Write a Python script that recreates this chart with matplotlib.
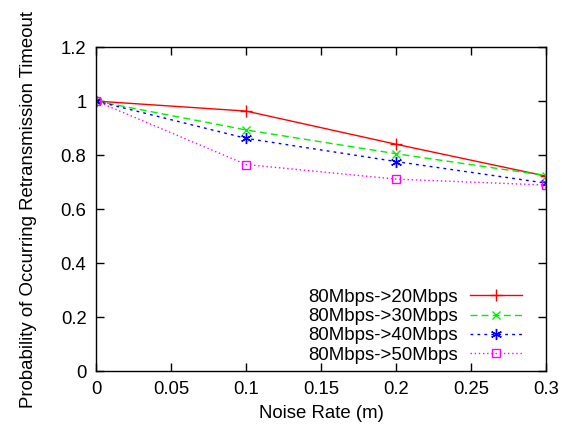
import matplotlib
matplotlib.use("Agg")
from matplotlib import pyplot as plt

plt.rcParams['font.family'] = ['Liberation Sans', 'DejaVu Sans']

noise_rate = [0, 0.1, 0.2, 0.3]
p_20 = [1.0, 0.963, 0.84, 0.722]
p_30 = [1.0, 0.893, 0.805, 0.724]
p_40 = [1.0, 0.862, 0.776, 0.696]
p_50 = [1.0, 0.765, 0.711, 0.689]
labels = ["80Mbps->20Mbps", "80Mbps->30Mbps", "80Mbps->40Mbps", "80Mbps->50Mbps"]

fig = plt.figure(figsize=(5.62, 4.32), dpi=100)
ax = fig.add_axes([0.171, 0.141, 0.801, 0.75])

ax.plot(noise_rate, p_20, color="#ff0000", linestyle="-", linewidth=1,
        marker="+", markersize=8, markeredgewidth=1, label=labels[0])
ax.plot(noise_rate, p_30, color="#00ee00", linestyle=(0, (5, 3)), linewidth=1,
        marker="x", markersize=6, markeredgewidth=1, label=labels[1])
ax.plot(noise_rate, p_40, color="#0000ff", linestyle=(0, (2, 3)), linewidth=1,
        marker=(6, 2, 0), markersize=8, markeredgewidth=1, label=labels[2])
ax.plot(noise_rate, p_50, color="#ff00ff", linestyle=(0, (1, 2)), linewidth=1,
        marker="s", markersize=6, markerfacecolor="none", markeredgewidth=1,
        label=labels[3])

ax.set_xlim(0, 0.3)
ax.set_ylim(0, 1.2)
ax.set_xticks([0, 0.05, 0.1, 0.15, 0.2, 0.25, 0.3])
ax.set_xticklabels(["0", "0.05", "0.1", "0.15", "0.2", "0.25", "0.3"])
ax.set_yticks([0, 0.2, 0.4, 0.6, 0.8, 1.0, 1.2])
ax.set_yticklabels(["0", "0.2", "0.4", "0.6", "0.8", "1", "1.2"])
ax.tick_params(direction="in", top=True, right=True, length=6, width=1,
               labelsize=13.3, pad=7)
for s in ax.spines.values():
    s.set_linewidth(1)

ax.set_xlabel("Noise Rate (m)", fontsize=13.4, labelpad=5)
ax.set_ylabel("Probability of Occurring Retransmission Timeout", fontsize=13.4,
              labelpad=17)

ax.legend(loc="lower right", bbox_to_anchor=(0.947, 0.023), frameon=False,
          markerfirst=False, fontsize=13.4, handlelength=2.8,
          labelspacing=0.12, borderaxespad=0, borderpad=0,
          handletextpad=0.65)

fig.savefig("out.png", dpi=100)
